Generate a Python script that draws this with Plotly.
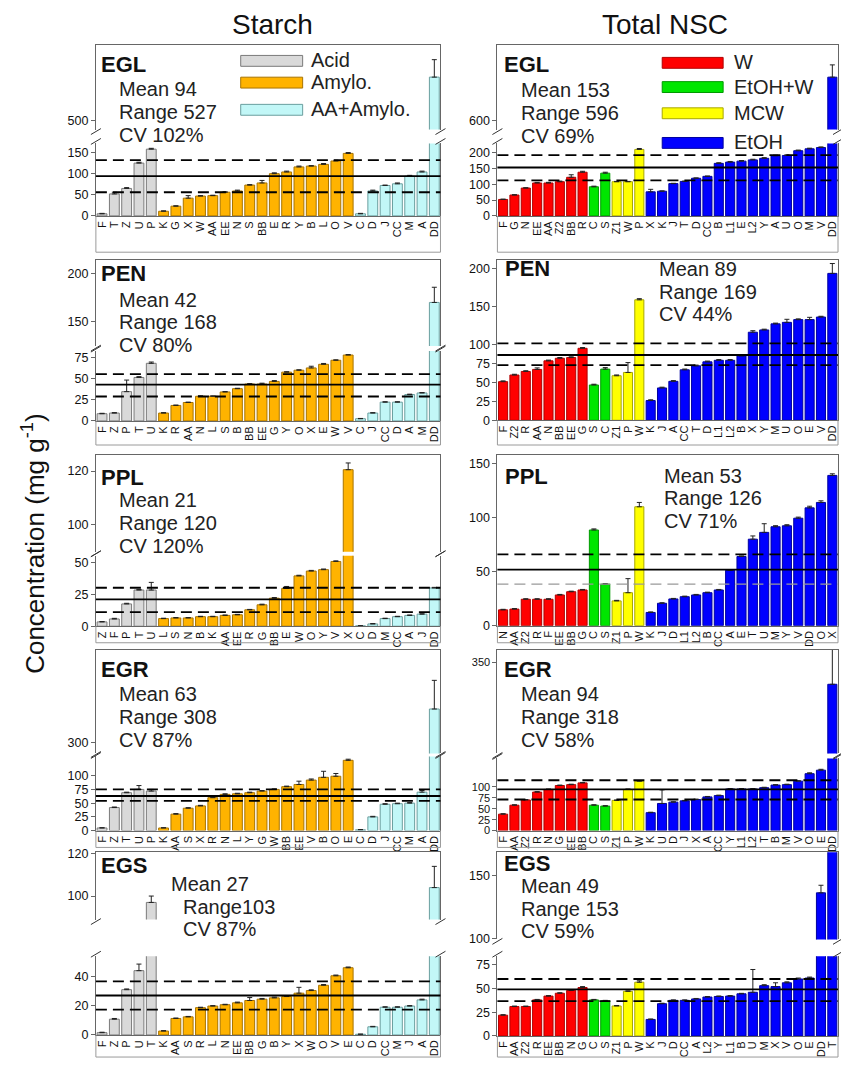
import plotly.graph_objects as go

W, H = 841, 1068
FONT = "Arial, 'Liberation Sans', sans-serif"
AXC = "#666666"

# ---------------- groups ----------------
starch_groups = ["Acid", "Amylo.", "AA+Amylo."]
nsc_groups = ["W", "EtOH+W", "MCW", "EtOH"]
starch_group_sizes = [5, 16, 7]
nsc_group_sizes = [8, 2, 3, 17]
starch_fill = ["#d9d9d9", "#ffb300", "#c2f7f7"]
starch_edge = ["#7a7a7a", "#a87400", "#6a9e9e"]
nsc_fill = ["#ff0000", "#00e600", "#ffff00", "#0000ff"]
nsc_edge = ["#b00000", "#009a00", "#a8a800", "#0000a0"]

# ---------------- EGL ----------------
egl_s_labels = ["F", "T", "Z", "U", "P", "K", "G", "X", "W", "AA", "EE", "N", "S", "BB", "E", "R",
                "Y", "B", "L", "O", "V", "C", "D", "J", "CC", "M", "A", "DD"]
egl_s_values = [5, 52, 65, 125, 158, 11, 23, 42, 47, 48, 56, 59, 73, 78, 100, 104,
                116, 118, 122, 130, 148, 5, 59, 72, 76, 94, 104, 530]
egl_s_err = [1, 4, 2, 2, 2, 1, 1, 6, 1, 1, 1, 2, 1, 6, 2, 2,
             2, 1, 2, 2, 2, 1, 2, 1, 2, 2, 2, 12]
egl_s_lines = [94, 56, 132]
egl_s_stats = ["Mean 94", "Range 527", "CV 102%"]

egl_n_labels = ["F", "G", "N", "EE", "AA", "Z2", "BB", "R", "C", "S", "Z1", "W", "P", "X", "K", "J",
                "T", "D", "CC", "B", "L1", "E", "L2", "Y", "A", "U", "O", "M", "V", "DD"]
egl_n_values = [52, 66, 88, 104, 104, 108, 122, 138, 92, 135, 108, 108, 210, 76, 78, 102,
                109, 119, 125, 166, 170, 173, 177, 182, 190, 191, 206, 212, 216, 646]
egl_n_err = [1, 1, 1, 2, 2, 2, 8, 3, 2, 3, 1, 1, 3, 8, 1, 1,
             1, 1, 1, 2, 2, 2, 2, 2, 2, 2, 2, 2, 2, 13]
egl_n_lines = [153, 112, 192]
egl_n_stats = ["Mean 153", "Range 596", "CV 69%"]

# ---------------- PEN ----------------
pen_s_labels = ["F", "Z", "P", "T", "U", "K", "R", "AA", "N", "L", "S", "B", "BB", "EE", "G", "Y",
                "O", "X", "E", "W", "V", "C", "J", "CC", "D", "A", "M", "DD"]
pen_s_values = [8.6, 9.4, 34.8, 51.6, 68.4, 9.4, 18.4, 21.9, 29.3, 29.3, 34.4, 38.3, 43.8, 43.8, 46.9, 57.9,
                60.2, 62.9, 67.2, 72.0, 78.2, 2.7, 9.4, 22.3, 22.3, 31.3, 33.2, 170]
pen_s_err = [0.5, 0.5, 13.7, 1, 1.5, 0.5, 0.5, 0.5, 0.5, 0.5, 0.5, 0.5, 0.5, 1, 1, 0.5,
             0.5, 2, 1, 0.5, 0.5, 0.3, 0.5, 0.5, 0.5, 0.5, 0.5, 16]
pen_s_lines = [43, 29, 55.5]
pen_s_stats = ["Mean 42", "Range 168", "CV 80%"]

pen_n_labels = ["F", "Z2", "R", "AA", "N", "BB", "EE", "G", "S", "C", "Z1", "P", "W", "K", "J", "A",
                "CC", "T", "D", "L1", "L2", "B", "X", "Y", "M", "U", "O", "E", "V", "DD"]
pen_n_values = [50.9, 59.6, 64.3, 67, 78.3, 81.7, 82.6, 94.8, 46.5, 67.4, 58.7, 63, 158.7, 26, 42.6, 51.3,
                66.5, 71.7, 77, 79, 79, 84.8, 116, 119, 127, 129, 132.6, 132.6, 136, 193.5]
pen_n_err = [1, 1, 1, 2, 1, 1, 1, 1, 1, 2, 1, 13, 1.5, 1, 1, 1,
             1, 1, 1, 1, 1, 1, 2, 1, 1, 4, 1, 3, 1, 13]
pen_n_lines = [86, 72.6, 101.3]
pen_n_stats = ["Mean 89", "Range 169", "CV 44%"]

# ---------------- PPL ----------------
ppl_s_labels = ["Z", "F", "P", "T", "U", "L", "S", "N", "B", "K", "AA", "EE", "R", "G", "BB", "E",
                "W", "O", "Y", "V", "X", "C", "D", "M", "CC", "A", "J", "DD"]
ppl_s_values = [3.4, 5.7, 17.5, 28.4, 28.4, 6, 6.5, 6.5, 7.5, 7.5, 8.5, 9, 12.9, 16.8, 22, 29.7,
                39.5, 43.3, 44.4, 50.8, 120.5, 0.3, 1.8, 6, 7.5, 8.5, 9.5, 30]
ppl_s_err = [0.3, 0.5, 0.5, 0.5, 6, 0.3, 0.3, 0.3, 0.3, 0.3, 0.3, 0.3, 0.3, 0.5, 0.5, 1.5,
             0.5, 0.5, 0.5, 0.5, 2.5, 0.1, 0.3, 0.3, 0.3, 0.3, 0.3, 0.5]
ppl_s_lines = [21, 11.1, 30.2]
ppl_s_stats = ["Mean 21", "Range 120", "CV 120%"]

ppl_n_labels = ["N", "AA", "Z2", "R", "F", "EE", "BB", "G", "C", "S", "Z1", "P", "W", "K", "J", "D",
                "L1", "L2", "B", "CC", "A", "E", "T", "U", "M", "Y", "V", "DD", "O", "X"]
ppl_n_values = [14.6, 15.3, 24.4, 24.4, 24.4, 28.4, 31.4, 33, 88.5, 38.4, 22.9, 30.5, 110, 12.2, 20.7, 24.7,
                26.8, 28.4, 30.5, 33, 51.2, 64, 80, 86.3, 91.5, 92.4, 99.4, 109, 114, 139]
ppl_n_err = [0.5, 0.5, 0.5, 0.5, 0.5, 0.5, 0.5, 0.5, 1, 0.5, 0.5, 13, 4, 0.5, 0.5, 0.5,
             0.5, 0.5, 0.5, 0.5, 0.5, 0.5, 3, 8, 1, 1, 1, 1.5, 1.5, 1.5]
ppl_n_lines = [51.9, 38.4, 66]
ppl_n_stats = ["Mean 53", "Range 126", "CV 71%"]

# ---------------- EGR ----------------
egr_s_labels = ["F", "Z", "T", "U", "P", "K", "AA", "S", "X", "R", "N", "L", "Y", "G", "W", "BB",
                "EE", "V", "B", "O", "E", "C", "D", "J", "CC", "M", "A", "DD"]
egr_s_values = [4.8, 42, 69, 75, 72, 4.8, 30, 40.8, 45, 60, 66, 67, 69, 72, 75, 80,
                84, 92, 97, 99, 128, 1.5, 25, 48, 49, 50, 70, 310]
egr_s_err = [0.5, 1, 1, 7, 3, 0.5, 1, 1, 1, 1, 1, 1, 1, 1, 1, 1,
             6, 2, 11, 5, 2, 0.5, 1, 1, 1, 1, 3, 8.5]
egr_s_lines = [63, 54, 75]
egr_s_stats = ["Mean 63", "Range 308", "CV 87%"]

egr_n_labels = ["F", "AA", "Z2", "R", "N", "G", "EE", "BB", "C", "S", "Z1", "P", "W", "K", "U", "D",
                "J", "X", "A", "CC", "Y", "L1", "L2", "T", "B", "M", "V", "O", "E", "DD"]
egr_n_values = [37.6, 58, 70, 88, 94, 103, 105, 109, 58, 56, 69, 94, 113, 41, 62, 65,
                68, 71, 77, 80, 95, 95, 95, 98, 104, 105, 113, 130, 138, 339]
egr_n_err = [1, 1, 1, 1, 1, 1, 1, 1, 1, 1, 1, 1, 1, 1, 31, 1,
             1, 1, 1, 1, 1, 1, 1, 1, 1, 1, 1, 2, 2, 22]
egr_n_lines = [94, 71, 115]
egr_n_stats = ["Mean 94", "Range 318", "CV 58%"]

# ---------------- EGS ----------------
egs_s_labels = ["F", "Z", "P", "U", "T", "K", "AA", "S", "R", "L", "N", "EE", "BB", "G", "B", "Y",
                "X", "W", "O", "V", "E", "C", "D", "CC", "M", "J", "A", "DD"]
egs_s_values = [1.6, 10.8, 31, 44, 97, 2.7, 11.3, 12.4, 18.7, 19.8, 20.7, 22, 23.6, 24.5, 25.4, 26.3,
                28.6, 30.4, 34, 40.5, 46, 0.5, 5.6, 19, 19, 19.8, 24, 104]
egs_s_err = [0.3, 0.5, 0.5, 4.5, 3, 0.3, 0.3, 0.3, 0.3, 0.3, 0.3, 0.5, 2, 0.5, 0.5, 0.5,
             4, 0.5, 0.5, 0.5, 0.5, 0.1, 0.3, 0.3, 0.3, 0.3, 0.5, 10]
egs_s_lines = [27, 17.3, 36.7]
egs_s_stats = ["Mean 27", "Range103", "CV 87%"]

egs_n_labels = ["F", "AA", "Z2", "R", "EE", "BB", "N", "G", "C", "S", "Z1", "P", "W", "K", "J", "D",
                "CC", "A", "L2", "Y", "L1", "B", "U", "M", "X", "V", "O", "E", "DD", "T"]
egs_n_values = [21.9, 31, 31, 38, 42, 45, 48, 51, 38, 37, 31.6, 47, 56.6, 17.4, 34, 37.5,
                37.5, 39, 41, 41.6, 42, 44.4, 46, 53, 52, 56, 60, 61, 136, 170]
egs_n_err = [0.5, 0.5, 0.5, 0.5, 0.5, 0.5, 0.5, 1, 0.5, 0.5, 0.5, 0.5, 1.5, 0.5, 0.5, 0.5,
             0.5, 0.5, 0.5, 0.5, 0.5, 0.5, 24, 1, 4, 1, 1, 1, 6, 0]
egs_n_lines = [49, 36.8, 60]
egs_n_stats = ["Mean 49", "Range 153", "CV 59%"]

# ---------------- layout geometry (pixels) ----------------
COLS = [(95, 440), (497, 838)]

panels = [
    dict(name="EGL", col=0, kind="s", lab=egl_s_labels, val=egl_s_values, err=egl_s_err,
         lines=egl_s_lines, stats=egl_s_stats, frame=(40, 250),
         low=(140, 213.3, [0, 171.6], [0, 50, 100, 150]), up=(40, 126, [493.9, 552.4], [500]),
         tpos=(98, 60), spos=(116, 85)),
    dict(name="EGL", col=1, kind="n", lab=egl_n_labels, val=egl_n_values, err=egl_n_err,
         lines=egl_n_lines, stats=egl_n_stats, frame=(40, 250),
         low=(140, 213.3, [0, 229], [0, 50, 100, 150, 200]), up=(40, 126, [590.6, 680.5], [600]),
         tpos=(502, 60), spos=(519, 86)),
    dict(name="PEN", col=0, kind="s", lab=pen_s_labels, val=pen_s_values, err=pen_s_err,
         lines=pen_s_lines, stats=pen_s_stats, frame=(255, 445),
         low=(350, 420.7, [0, 82.9], [0, 25, 50, 75]), up=(258, 345, [124, 214.6], [150, 200]),
         tpos=(98, 272), spos=(116, 298)),
    dict(name="PEN", col=1, kind="n", lab=pen_n_labels, val=pen_n_values, err=pen_n_err,
         lines=pen_n_lines, stats=pen_n_stats, frame=(255, 445),
         low=(258, 420, [0, 211], [0, 25, 50, 75, 100, 150, 200]), up=None,
         tpos=(503, 266), spos=(657, 267)),
    dict(name="PPL", col=0, kind="s", lab=ppl_s_labels, val=ppl_s_values, err=ppl_s_err,
         lines=ppl_s_lines, stats=ppl_s_stats, frame=(450, 645),
         low=(557, 628.3, [0, 55.3], [0, 25, 50]), up=(455, 553, [90, 126], [100, 120]),
         tpos=(98, 478), spos=(116, 501)),
    dict(name="PPL", col=1, kind="n", lab=ppl_n_labels, val=ppl_n_values, err=ppl_n_err,
         lines=ppl_n_lines, stats=ppl_n_stats, frame=(450, 645), thin_low=True,
         low=(455, 627.7, [0, 158], [0, 50, 100, 150]), up=None,
         tpos=(503, 477), spos=(662, 476)),
    dict(name="EGR", col=0, kind="s", lab=egr_s_labels, val=egr_s_values, err=egr_s_err,
         lines=egr_s_lines, stats=egr_s_stats, frame=(650, 852),
         low=(760, 835, [0, 135], [0, 25, 50, 75, 100]), up=(652, 757, [296.8, 327.6], [300]),
         tpos=(98, 672), spos=(116, 697)),
    dict(name="EGR", col=1, kind="n", lab=egr_n_labels, val=egr_n_values, err=egr_n_err,
         lines=egr_n_lines, stats=egr_n_stats, frame=(650, 852), small_ticks=True,
         low=(762, 835, [0, 164.8], [0, 25, 50, 75, 100]), up=(652, 757, [304, 356.5], [350]),
         tpos=(502, 672), spos=(519, 697)),
    dict(name="EGS", col=0, kind="s", lab=egs_s_labels, val=egs_s_values, err=egs_s_err,
         lines=egs_s_lines, stats=egs_s_stats, frame=(855, 1064),
         low=(962, 1041.7, [0, 53.9], [0, 20, 40]), up=(857, 925, [88.9, 120.6], [100, 120]),
         tpos=(98, 870), spos=(168, 889), sxoff=12),
    dict(name="EGS", col=1, kind="n", lab=egs_n_labels, val=egs_n_values, err=egs_n_err,
         lines=egs_n_lines, stats=egs_n_stats, frame=(855, 1064),
         low=(962, 1042.7, [0, 84], [0, 25, 50, 75]), up=(857, 945, [99.2, 168], [100, 150]),
         tpos=(502, 868), spos=(519, 891)),
]


def px(x):
    return x / W


def py(y):
    return 1 - y / H


def group_colors(sizes, fills, edges):
    fc, ec = [], []
    for n, f, e in zip(sizes, fills, edges):
        fc += [f] * n
        ec += [e] * n
    return fc, ec


fig = go.Figure()
layout = {}
shapes = []
annotations = []
ax = 0

for p in panels:
    x0, x1 = COLS[p["col"]]
    n = len(p["lab"])
    idx = list(range(n))
    if p["kind"] == "s":
        fc, ec = group_colors(starch_group_sizes, starch_fill, starch_edge)
    else:
        fc, ec = group_colors(nsc_group_sizes, nsc_fill, nsc_edge)
    segs = [("low", p["low"])]
    if p["up"] is not None:
        segs.append(("up", p["up"]))
    tfs = 11 if p.get("small_ticks") else 12.5
    for kind, seg in segs:
        ax += 1
        xn = "x" if ax == 1 else f"x{ax}"
        yn = "y" if ax == 1 else f"y{ax}"
        xk = "xaxis" if ax == 1 else f"xaxis{ax}"
        yk = "yaxis" if ax == 1 else f"yaxis{ax}"
        top, bot, rng, ticks = seg
        fig.add_trace(go.Bar(
            x=idx, y=p["val"], xaxis=xn, yaxis=yn, width=0.8,
            marker=dict(color=fc, line=dict(color=ec, width=1)),
            error_y=dict(type="data", symmetric=False, array=p["err"], arrayminus=[0] * n,
                         color="#222222", thickness=1, width=2.5),
            showlegend=False, hoverinfo="skip"))
        xa = dict(domain=[px(x0), px(x1)], range=[-0.5, n - 0.5], anchor=yn,
                  showgrid=False, zeroline=False, ticks="", showline=True,
                  linecolor=AXC, linewidth=1)
        if kind == "low":
            xa.update(tickmode="array", tickvals=idx, ticktext=p["lab"], tickangle=-90,
                      tickfont=dict(size=11, family=FONT, color="#111"),
                      mirror=(p["up"] is None))
        else:
            xa.update(showticklabels=False, side="top")
        layout[xk] = xa
        layout[yk] = dict(domain=[py(bot), py(top)], range=rng, anchor=xn,
                          tickmode="array", tickvals=ticks, ticks="outside", ticklen=4,
                          tickcolor=AXC, tickfont=dict(size=tfs, family=FONT, color="#111"),
                          showline=True, mirror=True, linecolor=AXC, linewidth=1,
                          showgrid=False, zeroline=False)
        if kind == "low":
            mean, lo, hi = p["lines"]
            xr = f"{xn} domain"
            shapes.append(dict(type="line", xref=xr, x0=0, x1=1, yref=yn, y0=mean, y1=mean,
                               line=dict(color="black", width=1.8)))
            shapes.append(dict(type="line", xref=xr, x0=0, x1=1, yref=yn, y0=hi, y1=hi,
                               line=dict(color="black", width=1.8, dash="11px,6px")))
            if p.get("thin_low"):
                shapes.append(dict(type="line", xref=xr, x0=0, x1=1, yref=yn, y0=lo, y1=lo,
                                   line=dict(color="#999999", width=1.2, dash="11px,6px")))
            else:
                shapes.append(dict(type="line", xref=xr, x0=0, x1=1, yref=yn, y0=lo, y1=lo,
                                   line=dict(color="black", width=1.8, dash="11px,6px")))
    # frame below plotting area (around tick labels)
    ftop, fbot = p["frame"]
    base = p["low"][1]
    for (a, b, c, d) in [(x0, fbot, x1, fbot), (x0, base, x0, fbot), (x1, base, x1, fbot)]:
        shapes.append(dict(type="line", xref="paper", yref="paper", x0=px(a), y0=py(b),
                           x1=px(c), y1=py(d), line=dict(color="#9a9a9a", width=1)))
    # break marks
    if p["up"] is not None:
        for xb in (x0, x1):
            for yb in (p["up"][1] + 2, p["low"][0] - 2):
                shapes.append(dict(type="line", xref="paper", yref="paper",
                                   x0=px(xb - 5), y0=py(yb + 3), x1=px(xb + 5), y1=py(yb - 3),
                                   line=dict(color="#333333", width=1)))
    # panel title & statistics
    annotations.append(dict(text=f"<b>{p['name']}</b>", x=px(p["tpos"][0]), y=py(p["tpos"][1]),
                            xref="paper", yref="paper", xanchor="left", yanchor="middle",
                            showarrow=False, font=dict(size=22, family=FONT, color="#111")))
    sx, sy = p["spos"]
    for i, t in enumerate(p["stats"]):
        xo = p.get("sxoff", 0) if i > 0 else 0
        annotations.append(dict(text=t, x=px(sx + xo), y=py(sy + i * 23), xref="paper", yref="paper",
                                xanchor="left", yanchor="middle", showarrow=False,
                                font=dict(size=20, family=FONT, color="#222")))

# ---------------- legends (drawn keys) ----------------
leg_s_y = [56, 78, 105.5]
for name, f, e, yy in zip(starch_groups, starch_fill, starch_edge, leg_s_y):
    shapes.append(dict(type="rect", xref="paper", yref="paper", x0=px(240), x1=px(302),
                       y0=py(yy + 6), y1=py(yy - 5), fillcolor=f, line=dict(color=e, width=1)))
    annotations.append(dict(text=name, x=px(308), y=py(yy), xref="paper", yref="paper",
                            xanchor="left", yanchor="middle", showarrow=False,
                            font=dict(size=20, family=FONT, color="#222")))
leg_n_y = [58, 82.5, 109, 139]
for name, f, e, yy in zip(nsc_groups, nsc_fill, nsc_edge, leg_n_y):
    shapes.append(dict(type="rect", xref="paper", yref="paper", x0=px(662), x1=px(723),
                       y0=py(yy + 6), y1=py(yy - 5), fillcolor=f, line=dict(color=e, width=1)))
    annotations.append(dict(text=name, x=px(732), y=py(yy), xref="paper", yref="paper",
                            xanchor="left", yanchor="middle", showarrow=False,
                            font=dict(size=20, family=FONT, color="#222")))

# ---------------- titles ----------------
annotations.append(dict(text="Starch", x=px(272), y=py(20), xref="paper", yref="paper",
                        xanchor="center", yanchor="middle", showarrow=False,
                        font=dict(size=28, family=FONT, color="#111")))
annotations.append(dict(text="Total NSC", x=px(665), y=py(20), xref="paper", yref="paper",
                        xanchor="center", yanchor="middle", showarrow=False,
                        font=dict(size=28, family=FONT, color="#111")))
annotations.append(dict(text="Concentration (mg g<sup>-1</sup>)", x=px(33), y=py(545),
                        xref="paper", yref="paper", xanchor="center", yanchor="middle",
                        textangle=-90, showarrow=False,
                        font=dict(size=26, family=FONT, color="#111")))

fig.update_layout(width=W, height=H, margin=dict(l=0, r=0, t=0, b=0),
                  paper_bgcolor="white", plot_bgcolor="white", showlegend=False,
                  shapes=shapes, annotations=annotations, **layout)
fig.write_html("out.html", config={"displayModeBar": False, "staticPlot": True},
               post_script="document.body.style.margin='0';document.body.style.padding='0';"
                           "document.documentElement.style.overflow='hidden';")
